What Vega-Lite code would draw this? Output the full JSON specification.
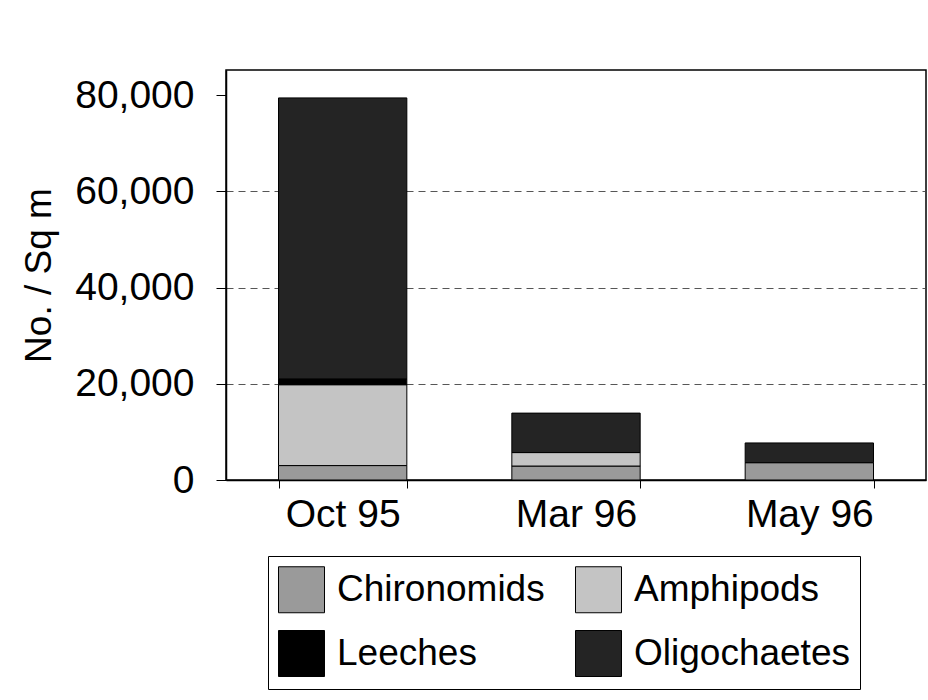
{
  "$schema": "https://vega.github.io/schema/vega-lite/v6.json",
  "width": 700,
  "height": 410,
  "autosize": "none",
  "padding": {"left": 226, "top": 70, "right": 2, "bottom": 220},
  "background": "white",
  "config": {
    "font": "Liberation Sans",
    "view": {"stroke": "black", "strokeWidth": 1.5},
    "axis": {"labelColor": "black", "titleColor": "black", "domainColor": "black", "tickColor": "black"},
    "legend": {"strokeColor": "black", "fillColor": "white"}
  },
  "data": {
    "values": [
      {"month": "Oct 95", "taxon": "Chironomids", "k": 1, "count": 3000},
      {"month": "Oct 95", "taxon": "Amphipods", "k": 2, "count": 16800},
      {"month": "Oct 95", "taxon": "Leeches", "k": 3, "count": 1200},
      {"month": "Oct 95", "taxon": "Oligochaetes", "k": 4, "count": 58400},
      {"month": "Mar 96", "taxon": "Chironomids", "k": 1, "count": 2900},
      {"month": "Mar 96", "taxon": "Amphipods", "k": 2, "count": 2800},
      {"month": "Mar 96", "taxon": "Oligochaetes", "k": 4, "count": 8200},
      {"month": "May 96", "taxon": "Chironomids", "k": 1, "count": 3600},
      {"month": "May 96", "taxon": "Oligochaetes", "k": 4, "count": 4100}
    ]
  },
  "mark": {"type": "bar", "stroke": "black", "strokeWidth": 1},
  "encoding": {
    "x": {
      "field": "month",
      "type": "nominal",
      "sort": ["Oct 95", "Mar 96", "May 96"],
      "scale": {"paddingInner": 0.45, "paddingOuter": 0.225},
      "axis": {
        "title": null,
        "labelAngle": 0,
        "labelFontSize": 39,
        "labelPadding": 7,
        "tickBand": "extent",
        "tickSize": 8,
        "domainWidth": 1.5
      }
    },
    "y": {
      "field": "count",
      "type": "quantitative",
      "stack": "zero",
      "scale": {"domain": [0, 85200], "nice": false},
      "axis": {
        "title": "No. / Sq m",
        "titleFontSize": 37,
        "titleFontWeight": "normal",
        "titlePadding": 16,
        "values": [0, 20000, 40000, 60000, 80000],
        "format": ",d",
        "labelFontSize": 39,
        "labelPadding": 22,
        "tickSize": 10,
        "domainWidth": 1.5,
        "grid": true,
        "gridColor": "#444444",
        "gridDash": [7, 5],
        "gridOpacity": {"condition": {"test": "datum.value == 0 || datum.value == 80000", "value": 0}, "value": 0.9}
      }
    },
    "color": {
      "field": "taxon",
      "type": "nominal",
      "scale": {
        "domain": ["Chironomids", "Amphipods", "Leeches", "Oligochaetes"],
        "range": ["#9a9a9a", "#c4c4c4", "#000000", "#242424"]
      },
      "legend": {
        "title": null,
        "orient": "none",
        "direction": "horizontal",
        "legendX": 42,
        "legendY": 486,
        "columns": 2,
        "symbolType": "square",
        "symbolSize": 2116,
        "symbolStrokeColor": "black",
        "symbolStrokeWidth": 1,
        "labelFontSize": 37,
        "labelColor": "black",
        "labelOffset": 12,
        "labelLimit": 400,
        "rowPadding": 13,
        "columnPadding": 28,
        "padding": 10
      }
    },
    "order": {"field": "k", "type": "quantitative"}
  }
}
